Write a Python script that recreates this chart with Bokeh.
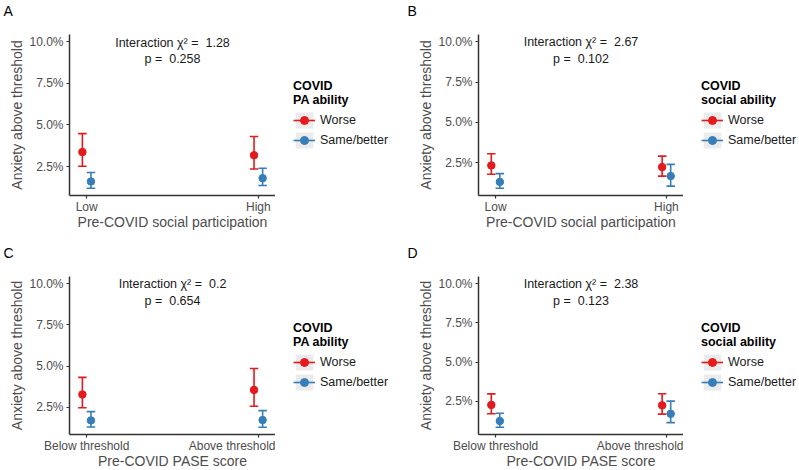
from bokeh.plotting import figure
from bokeh.models import FixedTicker, PrintfTickFormatter, Legend, LegendItem, Range1d
from bokeh.layouts import column, row
from bokeh.embed import file_html
from bokeh.resources import INLINE
from bokeh.core.properties import value

FONT = "Liberation Sans"
RED = "#E41A1C"
BLUE = "#377EB8"
TICK_COL = "#4D4D4D"
AXIS_COL = "#333333"
NB = "\u00a0"

# ---------------- data ----------------
panel_letters = ["A", "B", "C", "D"]
cats_social = ["Low", "High"]
cats_pase = ["Below threshold", "Above threshold"]
xtitle_social = "Pre-COVID social participation"
xtitle_pase = "Pre-COVID PASE score"
ytitle = "Anxiety above threshold"
legend_pa = "COVID\nPA ability"
legend_social = "COVID\nsocial ability"
group_labels = ["Worse", "Same/better"]
y_ticks = [2.5, 5.0, 7.5, 10.0]

# Panel A
a_worse_est = [3.37, 3.18]
a_worse_lo = [2.52, 2.35]
a_worse_hi = [4.48, 4.31]
a_better_est = [1.60, 1.80]
a_better_lo = [1.20, 1.36]
a_better_hi = [2.14, 2.40]
# Panel B
b_worse_est = [2.33, 2.23]
b_worse_lo = [1.78, 1.67]
b_worse_hi = [3.06, 2.91]
b_better_est = [1.31, 1.67]
b_better_lo = [0.92, 1.05]
b_better_hi = [1.82, 2.40]
# Panel C
c_worse_est = [3.28, 3.56]
c_worse_lo = [2.48, 2.57]
c_worse_hi = [4.32, 4.86]
c_better_est = [1.71, 1.73]
c_better_lo = [1.31, 1.29]
c_better_hi = [2.24, 2.30]
# Panel D
d_worse_est = [2.27, 2.24]
d_worse_lo = [1.71, 1.68]
d_worse_hi = [2.97, 2.98]
d_better_est = [1.24, 1.70]
d_better_lo = [0.84, 1.14]
d_better_hi = [1.74, 2.51]

chi2_values = ["1.28", "2.67", "0.2", "2.38"]
p_values = ["0.258", "0.102", "0.654", "0.123"]
annot_y = 9.45
annot_top = 10.0

LEGEND_H = 71


def make_panel(letter, cats, xtitle, leg_title, worse, better, chi2, pval,
               left, frame_w, top, frame_h, bottom, letter_dx,
               leg_w, leg_x, leg_top):
    lo_all = worse[1] + better[1]
    ymin = min(lo_all)
    span = annot_top - ymin
    y0 = ymin - 0.05 * span
    y1 = annot_top + 0.05 * span

    p = figure(frame_width=frame_w, frame_height=frame_h,
               x_range=Range1d(0.9, 2.1), y_range=Range1d(y0, y1),
               output_backend="svg", toolbar_location=None,
               min_border_left=left, min_border_right=0,
               min_border_top=top, min_border_bottom=bottom,
               outline_line_color=None, background_fill_color="white",
               border_fill_color="white")
    p.xgrid.visible = False
    p.ygrid.visible = False

    xpos = [i + 1 for i in range(len(cats))]
    dodge = 0.025

    series = []
    for (est, lo, hi), col, sgn in zip([worse, better], [RED, BLUE], [-1, 1]):
        xs = [x + sgn * dodge for x in xpos]
        series.append((xs, est, lo, hi, col))
        p.segment(x0=xs, y0=lo, x1=xs, y1=hi, line_color=col, line_width=1.6)
        p.scatter(x=xs, y=hi, marker="dash", size=8.5, line_color=col, line_width=1.6)
        p.scatter(x=xs, y=lo, marker="dash", size=8.5, line_color=col, line_width=1.6)
        p.scatter(x=xs, y=est, marker="circle", size=7.5, fill_color=col, line_color=col)

    p.text(x=[1.5], y=[annot_y],
           text=[f"Interaction \u03c7\u00b2 ={NB} {chi2}\np ={NB} {pval}"],
           text_align="center", text_baseline="middle",
           text_font=value(FONT), text_font_size="12.5px", text_color="#1A1A1A",
           text_line_height=1.2)

    for ax in (p.xaxis[0], p.yaxis[0]):
        ax.axis_line_color = AXIS_COL
        ax.axis_line_width = 1.5
        ax.major_tick_line_color = AXIS_COL
        ax.major_tick_line_width = 1.2
        ax.major_tick_in = 0
        ax.major_tick_out = 3
        ax.minor_tick_line_color = None
        ax.major_label_text_font = FONT
        ax.major_label_text_font_size = "12px"
        ax.major_label_text_color = TICK_COL
        ax.axis_label_text_font = FONT
        ax.axis_label_text_font_size = "14px"
        ax.axis_label_text_font_style = "normal"
        ax.axis_label_text_color = TICK_COL
    p.xaxis.major_label_standoff = 1
    p.xaxis.axis_label_standoff = -3
    p.yaxis.major_label_standoff = 3
    p.yaxis.axis_label_standoff = 1

    p.xaxis.ticker = FixedTicker(ticks=xpos)
    p.xaxis.major_label_overrides = {x: c for x, c in zip(xpos, cats)}
    p.xaxis.axis_label = xtitle
    p.yaxis.ticker = FixedTicker(ticks=y_ticks)
    p.yaxis.formatter = PrintfTickFormatter(format="%.1f%%")
    p.yaxis.axis_label = ytitle

    p.title.text = letter + "\n" + NB
    p.title.align = "left"
    p.title.offset = letter_dx
    p.title.standoff = 0
    p.title.text_font = FONT
    p.title.text_font_size = "14px"
    p.title.text_font_style = "normal"
    p.title.text_color = "black"

    # legend panel: separate figure to the right, same vertical borders
    lf = figure(frame_width=leg_w, frame_height=frame_h,
                min_border_left=0, min_border_top=top,
                min_border_right=0, min_border_bottom=bottom,
                x_range=Range1d(0.9, 2.1), y_range=Range1d(y0, y1),
                x_axis_location=None, y_axis_location=None,
                output_backend="svg", toolbar_location=None,
                outline_line_color=None, background_fill_color="white",
                border_fill_color="white")
    lf.grid.visible = False
    xs0, est0, lo0, hi0, _ = series[0]
    bg = lf.quad(left=xs0, right=xs0, top=hi0, bottom=lo0,
                 fill_color="#EBEBEB", line_color=None, visible=False)
    items = []
    for (xs, est, lo, hi, col), lab in zip(series, group_labels):
        seg = lf.segment(x0=xs, y0=lo, x1=xs, y1=hi, line_color=col, line_width=1.6,
                         visible=False)
        pt = lf.scatter(x=xs, y=est, marker="circle", size=7.5, fill_color=col,
                        line_color=col, visible=False)
        items.append(LegendItem(label=value(lab), renderers=[bg, seg, pt]))
    legend = Legend(items=items, title=leg_title,
                    location=(leg_x, frame_h - (leg_top - top) - LEGEND_H),
                    orientation="vertical", glyph_width=22, glyph_height=20, spacing=0,
                    label_standoff=5, padding=0, margin=0, border_line_color=None,
                    background_fill_alpha=0, click_policy="none",
                    title_text_font=FONT, title_text_font_size="12.5px",
                    title_text_font_style="bold", title_text_color="black", title_standoff=3,
                    label_text_font=FONT, label_text_font_size="12.5px",
                    label_text_color="#1A1A1A")
    lf.add_layout(legend)
    return row(p, lf)


pA = make_panel(panel_letters[0], cats_social, xtitle_social, legend_pa,
                (a_worse_est, a_worse_lo, a_worse_hi), (a_better_est, a_better_lo, a_better_hi),
                chi2_values[0], p_values[0], 69, 206, 34, 161, 40, -66, 125, 18, 79)
pB = make_panel(panel_letters[1], cats_social, xtitle_social, legend_social,
                (b_worse_est, b_worse_lo, b_worse_hi), (b_better_est, b_better_lo, b_better_hi),
                chi2_values[1], p_values[1], 78, 205, 34, 161, 40, -71, 116, 18, 79)
pC = make_panel(panel_letters[2], cats_pase, xtitle_pase, legend_pa,
                (c_worse_est, c_worse_lo, c_worse_hi), (c_better_est, c_better_lo, c_better_hi),
                chi2_values[2], p_values[2], 69, 206, 41, 158, 36, -66, 125, 18, 86)
pD = make_panel(panel_letters[3], cats_pase, xtitle_pase, legend_social,
                (d_worse_est, d_worse_lo, d_worse_hi), (d_better_est, d_better_lo, d_better_hi),
                chi2_values[3], p_values[3], 78, 205, 41, 158, 36, -71, 116, 18, 86)

layout = column(row(pA, pB), row(pC, pD))

with open("out.html", "w") as f:
    f.write(file_html(layout, INLINE))
